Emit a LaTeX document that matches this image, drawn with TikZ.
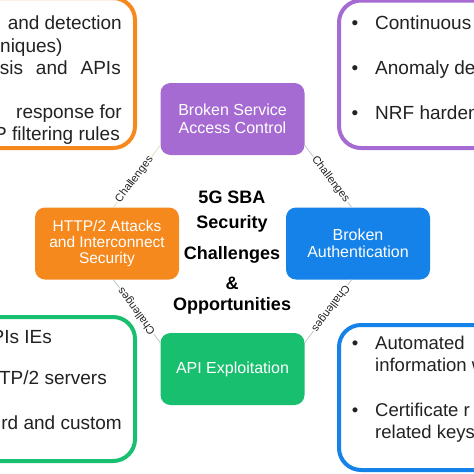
\documentclass[tikz,border=0pt]{standalone}
\usepackage{fontspec}
\setmainfont{Liberation Sans}
\definecolor{sbapurple}{HTML}{A66BD3}
\definecolor{sbaorange}{HTML}{F5891E}
\definecolor{sbablue}{HTML}{1482E8}
\definecolor{sbagreen}{HTML}{18BF6F}
\definecolor{sbatext}{HTML}{222222}
\definecolor{linkbeige}{HTML}{E6DDB4}
\definecolor{linkgrey}{HTML}{BCC8CE}
\tikzset{
  midbox/.style={rounded corners=10pt, minimum width=144pt, minimum height=72pt, align=center, text=white, font=\fontsize{16}{17.5}\selectfont},
  outerbox/.style={line width=4pt, rounded corners=22pt},
  boxtext/.style={text=sbatext, inner sep=0pt, font=\fontsize{19}{22}\selectfont},
  righttext/.style={text=sbatext, inner sep=0pt, font=\fontsize{18.5}{22}\selectfont},
  centertext/.style={inner sep=0pt, align=center, font=\fontsize{18}{25}\selectfont\bfseries},
  link/.style={line width=0.8pt},
  lbl/.style={sloped, fill=white, inner sep=1pt, text=sbatext, font=\fontsize{11}{12}\selectfont}
}

\begin{document}
\begin{tikzpicture}[x=1pt,y=-1pt]
        \clip (0,0) rectangle (474,474);
        \fill[white] (0,0) rectangle (474,474);

        % outer boxes, cut by the edges
        \draw[outerbox, draw=sbaorange] (-80,-2) rectangle (135,148);     % top left
        \draw[outerbox, draw=sbapurple] (339,0.5) rectangle (560,148);    % top right
        \draw[outerbox, draw=sbagreen] (-80,317) rectangle (135,461);     % bottom left
        \draw[outerbox, draw=sbablue] (339,325) rectangle (560,470);      % bottom right

        % top left text
        \node[boxtext, anchor=base east] (tla) at (122,29.5) {\makebox[114pt][s]{and detection}};
        \node[boxtext, anchor=base west] (tlb) at (0,52) {niques)};
        \node[boxtext, anchor=base east] (tlc) at (121,74.5) {\makebox[121pt][s]{sis and APIs}};
        \node[boxtext, anchor=base east] (tld) at (122,118.5) {response for};
        \node[boxtext, anchor=base east] (tle) at (120,140) {P filtering rules};

        % top right text
        \node[boxtext, anchor=base] (trb1) at (355,29.5) {•};
        \node[boxtext, anchor=base west] (tra) at (375,29.5) {Continuous};
        \node[boxtext, anchor=base] (trb2) at (355,74.5) {•};
        \node[boxtext, anchor=base west] (trb) at (375,74.5) {Anomaly det};
        \node[boxtext, anchor=base] (trb3) at (355,119.5) {•};
        \node[boxtext, anchor=base west] (trc) at (375,119.5) {NRF harden};

        % bottom left text
        \node[boxtext, anchor=base east] (bla) at (52,343.5) {PIs IEs};
        \node[boxtext, anchor=base east] (blb) at (107,384.5) {TTP/2 servers};
        \node[boxtext, anchor=base east] (blc) at (122,429.5) {rd and custom};

        % bottom right text
        \node[righttext, anchor=base] (brb1) at (355,349.5) {•};
        \node[righttext, anchor=base west] (bra) at (375,349.5) {Automated};
        \node[righttext, anchor=base west] (brb) at (375,371.5) {information w};
        \node[righttext, anchor=base] (brb2) at (355,416.5) {•};
        \node[righttext, anchor=base west] (brc) at (375,416.5) {Certificate r};
        \node[righttext, anchor=base west] (brd) at (375,438.5) {related keys};

        % challenge boxes
        \node[midbox, fill=sbapurple] (bsac) at (232.5,119) {Broken Service\\Access Control};
        \node[midbox, fill=sbaorange, font=\fontsize{15.5}{16.3}\selectfont] (http) at (107,243.5) {HTTP/2 Attacks\\and Interconnect\\Security};
        \node[midbox, fill=sbablue] (auth) at (358,243.5) {Broken\\Authentication};
        \node[midbox, fill=sbagreen] (api) at (232.5,369) {API Exploitation};

        % centre title
        \node[centertext] (title) at (232,212) {5G SBA\\Security};
        \node[centertext] (chal) at (232,255) {Challenges};
        \node[centertext] (amp) at (232,283) {\&};
        \node[centertext] (opp) at (232,306) {Opportunities};

        % links
        \draw[link, draw=linkbeige] (http.80) -- node[lbl, pos=0.45] (l1) {Challenges} (bsac.200);
        \draw[link, draw=linkgrey] (bsac.-20) -- node[lbl, pos=0.55] (l2) {Challenges} (auth.100);
        \draw[link, draw=linkgrey] (api.160) -- node[lbl, allow upside down] (l3) {Challenges} (http.-80);
        \draw[link, draw=linkgrey] (auth.-100) -- node[lbl, allow upside down, pos=0.45] (l4) {Challenges} (api.20);

    \end{tikzpicture}
\end{document}
